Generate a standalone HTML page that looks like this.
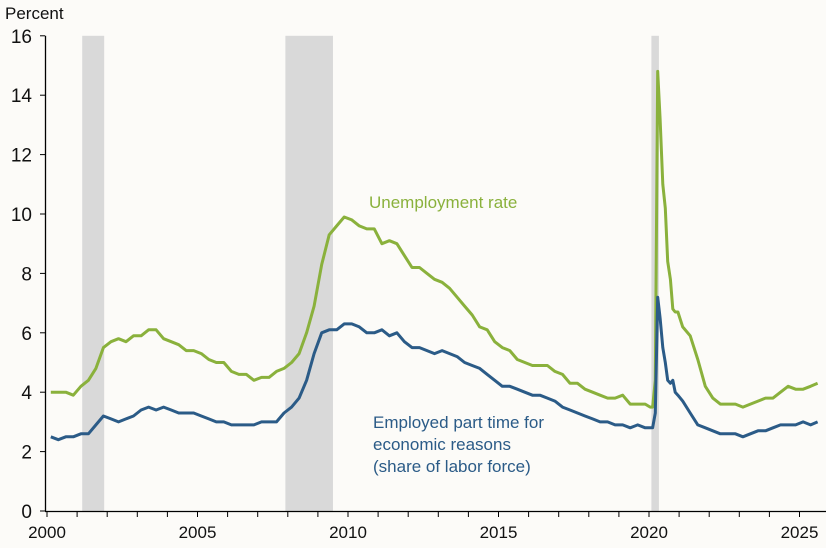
<!DOCTYPE html>
<html><head><meta charset="utf-8"><style>
body{margin:0;background:#fcfbf8}
svg{display:block;font-family:"Liberation Sans",sans-serif}
</style></head><body>
<svg id="chart" width="826" height="548"></svg>
<script>
const recessions=[[2001.17,2001.9],[2007.92,2009.5],[2020.08,2020.33]];
const urDates=[];const urValues=[
4.0,4.0,4.0,3.9, 4.2,4.4,4.8,5.5, 5.7,5.8,5.7,5.9, 5.9,6.1,6.1,5.8, 5.7,5.6,5.4,5.4,
5.3,5.1,5.0,5.0, 4.7,4.6,4.6,4.4, 4.5,4.5,4.7,4.8, 5.0,5.3,6.0,6.9, 8.3,9.3,9.6,9.9,
9.8,9.6,9.5,9.5, 9.0,9.1,9.0,8.6, 8.2,8.2,8.0,7.8, 7.7,7.5,7.2,6.9, 6.6,6.2,6.1,5.7,
5.5,5.4,5.1,5.0, 4.9,4.9,4.9,4.7, 4.6,4.3,4.3,4.1, 4.0,3.9,3.8,3.8, 3.9,3.6,3.6,3.6];
const ptValues=[
2.5,2.4,2.5,2.5, 2.6,2.6,2.9,3.2, 3.1,3.0,3.1,3.2, 3.4,3.5,3.4,3.5, 3.4,3.3,3.3,3.3,
3.2,3.1,3.0,3.0, 2.9,2.9,2.9,2.9, 3.0,3.0,3.0,3.3, 3.5,3.8,4.4,5.3, 6.0,6.1,6.1,6.3,
6.3,6.2,6.0,6.0, 6.1,5.9,6.0,5.7, 5.5,5.5,5.4,5.3, 5.4,5.3,5.2,5.0, 4.9,4.8,4.6,4.4,
4.2,4.2,4.1,4.0, 3.9,3.9,3.8,3.7, 3.5,3.4,3.3,3.2, 3.1,3.0,3.0,2.9, 2.9,2.8,2.9,2.8];
for(let i=0;i<80;i++)urDates.push(2000+i*0.25+0.125);
const monDates=[2020.04,2020.12,2020.21,2020.29,2020.37,2020.46,2020.54,2020.62,2020.71,2020.79,2020.87,2020.96];
const urMonthly=[3.5,3.5,4.4,14.8,13.2,11.0,10.2,8.4,7.8,6.8,6.7,6.7];
const ptMonthly=[2.8,2.8,3.3,7.2,6.5,5.5,5.0,4.4,4.3,4.4,4.0,3.9];
const lateDates=[2021.12,2021.37,2021.62,2021.87,2022.12,2022.37,2022.62,2022.87,2023.12,2023.37,2023.62,2023.87,2024.12,2024.37,2024.62,2024.87,2025.12,2025.37,2025.6];
const urLate=[6.2,5.9,5.1,4.2,3.8,3.6,3.6,3.6,3.5,3.6,3.7,3.8,3.8,4.0,4.2,4.1,4.1,4.2,4.3];
const ptLate=[3.7,3.3,2.9,2.8,2.7,2.6,2.6,2.6,2.5,2.6,2.7,2.7,2.8,2.9,2.9,2.9,3.0,2.9,3.0];
const yTicks=[0,2,4,6,8,10,12,14,16];
const xLabels=[2000,2005,2010,2015,2020,2025];

const NS="http://www.w3.org/2000/svg",svg=document.getElementById('chart');
const X=y=>47+(y-2000)*30.1, Y=v=>511-v*29.7;
function el(t,a,p){const e=document.createElementNS(NS,t);for(const k in a)e.setAttribute(k,a[k]);(p||svg).appendChild(e);return e;}
el('rect',{x:0,y:0,width:826,height:548,fill:'#fcfbf8'});
recessions.forEach(r=>{const e=el('rect',{x:X(r[0]),y:Y(16),width:X(r[1])-X(r[0]),height:Y(0)-Y(16),fill:'#d9d9d9'});

});
function line(d,v,c,name){const dd=d.map((x,i)=>(i?'L':'M')+X(x).toFixed(1)+','+Y(v[i]).toFixed(1)).join('');
const e=el('path',{d:dd,fill:'none',stroke:c,'stroke-width':3,'stroke-linejoin':'round'});

}
line(urDates.concat(monDates,lateDates),urValues.concat(urMonthly,urLate),'#8ab13c','unemployment-rate-line');
line(urDates.concat(monDates,lateDates),ptValues.concat(ptMonthly,ptLate),'#2b5b87','part-time-line');
el('line',{x1:45.5,y1:Y(16),x2:45.5,y2:Y(0),stroke:'#000','stroke-width':1.3});
el('line',{x1:45,y1:Y(0)+0.5,x2:826,y2:Y(0)+0.5,stroke:'#000','stroke-width':1.3});
yTicks.forEach(v=>{el('line',{x1:40,y1:Y(v),x2:45,y2:Y(v),stroke:'#000'});
const t=el('text',{x:32,y:Y(v)+7,'text-anchor':'end','font-size':19,fill:'#111'});t.textContent=v;

});
for(let yr=2000;yr<=2025;yr++)el('line',{x1:X(yr),y1:Y(0),x2:X(yr),y2:Y(0)+6,stroke:'#000'});
xLabels.forEach(v=>{const t=el('text',{x:X(v),y:538,'text-anchor':'middle','font-size':17,fill:'#111'});t.textContent=v;

});
const yt=el('text',{x:5,y:19,'font-size':17,fill:'#111'});yt.textContent='Percent';


const l1=el('text',{x:369,y:208,'font-size':17,fill:'#8ab13c'});l1.textContent='Unemployment rate';


['Employed part time for','economic reasons','(share of labor force)'].forEach((s,i)=>{
const t=el('text',{x:373,y:428+i*22,'font-size':17,fill:'#2b5b87'});t.textContent=s;

});
</script>
</body></html>
